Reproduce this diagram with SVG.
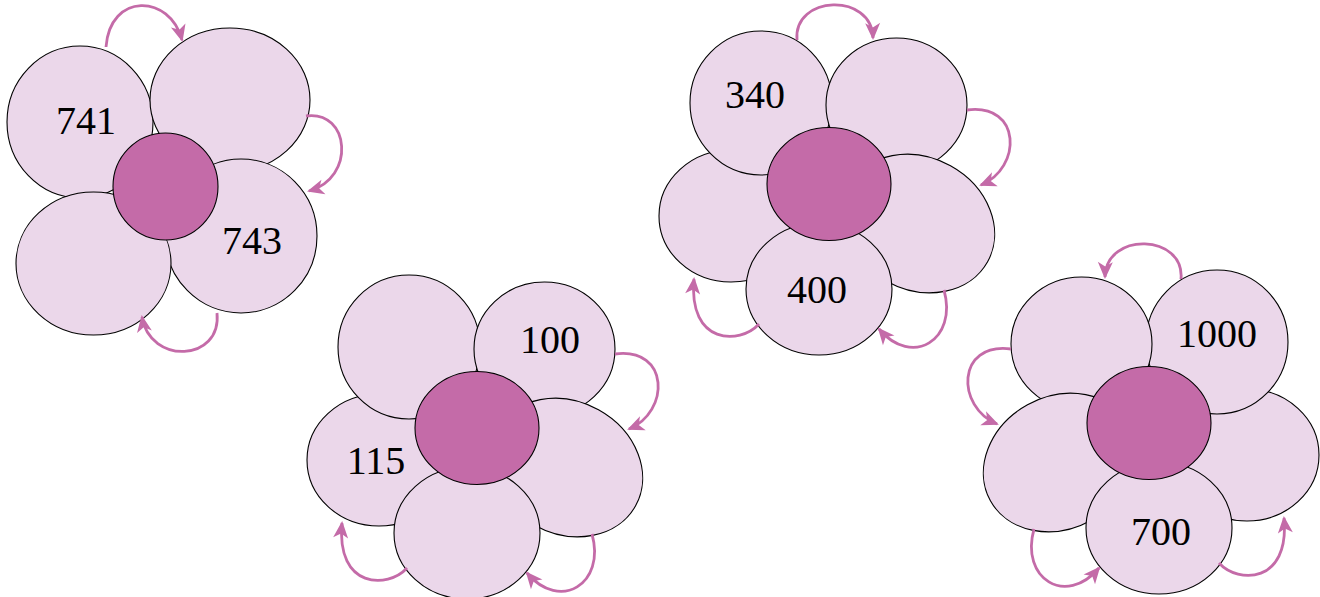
<svg xmlns="http://www.w3.org/2000/svg" width="1320" height="597" viewBox="0 0 1320 597">
<defs>
<style>
.petal{fill:#EBD7EA;stroke:#000;stroke-width:1.1}
.core{fill:#C46BA8;stroke:#000;stroke-width:1.1}
.lbl{font-family:"Liberation Serif","Times New Roman",serif;font-size:40px;fill:#000;text-anchor:middle}
.arr{fill:none;stroke:#C46BA8;stroke-width:2.8;marker-end:url(#ah)}
</style>
<marker id="ah" viewBox="-18 -9 21 18" refX="0" refY="0" markerWidth="21" markerHeight="18" markerUnits="userSpaceOnUse" orient="auto">
<path d="M2,0 L-15,-7.5 L-10.5,0 L-15,7.5 Z" fill="#C46BA8"/>
</marker>
</defs>
<rect width="1320" height="597" fill="#fff"/>

<g id="flower1">
<g id="f1-tl"><ellipse class="petal" cx="80" cy="122" rx="73" ry="76"/><text class="lbl" x="86" y="134">741</text></g>
<g id="f1-tr"><ellipse class="petal" cx="230" cy="100" rx="80" ry="72"/></g>
<g id="f1-br"><ellipse class="petal" cx="241" cy="236" rx="76" ry="77"/><text class="lbl" x="252" y="254">743</text></g>
<g id="f1-bl"><ellipse class="petal" cx="93.5" cy="263.5" rx="77.5" ry="71.5"/></g>
<g id="f1-c"><ellipse class="core" cx="165.5" cy="186.5" rx="52.5" ry="53.5"/></g>
</g>

<g id="flower2">
<g id="f2-l"><ellipse class="petal" cx="379" cy="460" rx="72" ry="66"/></g>
<g id="f2-tl"><ellipse class="petal" cx="409" cy="347" rx="71" ry="72"/></g>
<g id="f2-tr"><ellipse class="petal" cx="544.5" cy="349" rx="70.5" ry="67"/><text class="lbl" x="550" y="353">100</text></g>
<g id="f2-r"><ellipse class="petal" cx="566.5" cy="467.5" rx="79" ry="66" transform="rotate(29 566.5 467.5)"/></g>
<g id="f2-b"><ellipse class="petal" cx="467" cy="533" rx="73" ry="66"/></g>
<g id="f2-c"><ellipse class="core" cx="477" cy="428" rx="62" ry="56.5"/></g>
<text class="lbl" x="376" y="474">115</text>
</g>

<g id="flower3">
<g id="f3-l"><ellipse class="petal" cx="731" cy="216" rx="72" ry="66"/></g>
<g id="f3-tl"><ellipse class="petal" cx="761" cy="103" rx="71" ry="72"/><text class="lbl" x="755" y="108">340</text></g>
<g id="f3-tr"><ellipse class="petal" cx="896.5" cy="105" rx="70.5" ry="67"/></g>
<g id="f3-r"><ellipse class="petal" cx="918.5" cy="223.5" rx="79" ry="66" transform="rotate(29 918.5 223.5)"/></g>
<g id="f3-b"><ellipse class="petal" cx="819" cy="289" rx="73" ry="66"/><text class="lbl" x="817" y="303">400</text></g>
<g id="f3-c"><ellipse class="core" cx="829" cy="184" rx="62" ry="56.5"/></g>
</g>

<g id="flower4">
<g id="f4-r"><ellipse class="petal" cx="1247" cy="455" rx="72" ry="66"/></g>
<g id="f4-tr"><ellipse class="petal" cx="1217" cy="342" rx="71" ry="72"/><text class="lbl" x="1217" y="347">1000</text></g>
<g id="f4-tl"><ellipse class="petal" cx="1081.5" cy="344" rx="70.5" ry="67"/></g>
<g id="f4-l"><ellipse class="petal" cx="1059.5" cy="462.5" rx="79" ry="66" transform="rotate(-29 1059.5 462.5)"/></g>
<g id="f4-b"><ellipse class="petal" cx="1159" cy="528" rx="73" ry="66"/><text class="lbl" x="1161" y="545">700</text></g>
<g id="f4-c"><ellipse class="core" cx="1149" cy="423" rx="62" ry="56.5"/></g>
</g>

<g id="connectors">
<path class="arr" d="M106,47 C110,-8 170,-6 182,40"/>
<path class="arr" d="M306,116 C350,110 356,178 309,191"/>
<path class="arr" d="M217,313 C222,362 150,365 142,317"/>

<path class="arr" d="M615,354 C670,347 670,412 629,429"/>
<path class="arr" d="M592,534 C606,584 560,612 527,573"/>
<path class="arr" d="M407,568 C388,589 336,589 342,523"/>

<path class="arr" d="M797,40 C793,-5 872,-8 873,38"/>
<path class="arr" d="M967,110 C1022,103 1022,168 981,185"/>
<path class="arr" d="M944,290 C958,340 912,368 879,329"/>
<path class="arr" d="M759,324 C740,345 688,345 694,279"/>

<path class="arr" d="M1181,279 C1185,234 1106,231 1105,277"/>
<path class="arr" d="M1011,349 C956,342 956,407 997,424"/>
<path class="arr" d="M1034,529 C1020,579 1066,607 1099,568"/>
<path class="arr" d="M1219,563 C1238,584 1290,584 1284,518"/>
</g>
</svg>
